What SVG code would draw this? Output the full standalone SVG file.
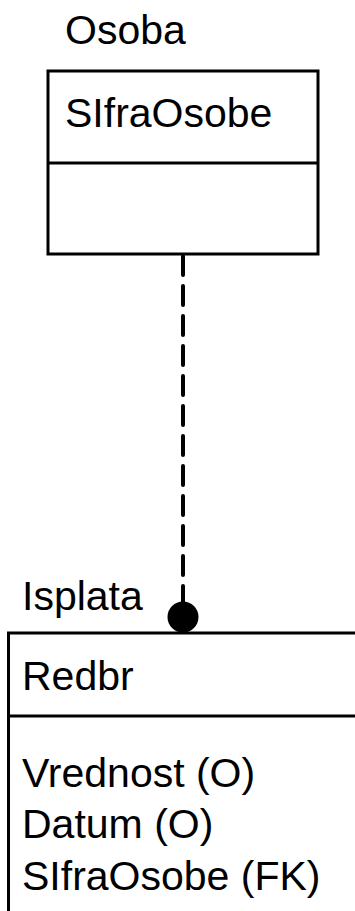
<svg xmlns="http://www.w3.org/2000/svg" width="355" height="911" viewBox="0 0 355 911">
<style>
  .lbl { font-family: "Liberation Sans", Arial, sans-serif; font-size: 41px; fill: #000; }
  .box { fill: #fff; stroke: #000; stroke-width: 3; }
  .div { stroke: #000; stroke-width: 3; }
  .rel { stroke: #000; stroke-width: 4; stroke-dasharray: 19 11; stroke-linecap: round; fill: none; }
</style>
<rect width="355" height="911" fill="#fff"/>
<g id="connectors">
  <line class="rel" x1="183" y1="256" x2="183" y2="605"/>
  <circle cx="183" cy="617" r="15.5" fill="#000"/>
</g>
<g id="osoba">
  <text class="lbl" x="65" y="44">Osoba</text>
  <rect class="box" x="48" y="71" width="270" height="183"/>
  <line class="div" x1="48" y1="163" x2="318" y2="163"/>
  <text class="lbl" x="65" y="127">SIfraOsobe</text>
</g>
<g id="isplata">
  <text class="lbl" x="22" y="610">Isplata</text>
  <rect class="box" x="8.5" y="633" width="360" height="300"/>
  <line class="div" x1="8.5" y1="716" x2="360" y2="716"/>
  <text class="lbl" x="22" y="690">Redbr</text>
  <text class="lbl" x="22" y="787">Vrednost (O)</text>
  <text class="lbl" x="22" y="838">Datum (O)</text>
  <text class="lbl" x="22" y="890">SIfraOsobe (FK)</text>
</g>
</svg>
